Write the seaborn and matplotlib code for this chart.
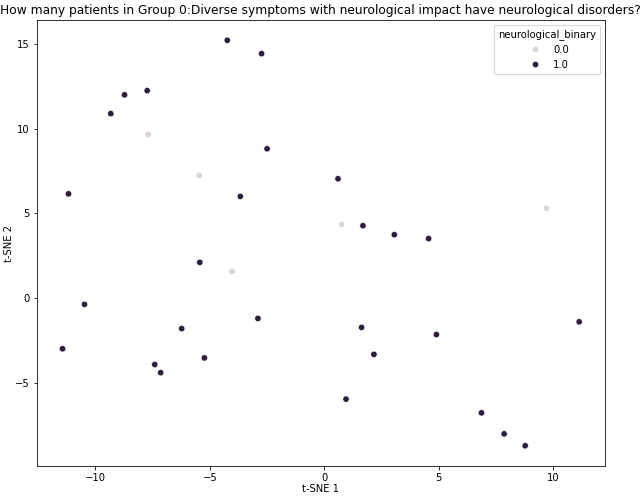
import pandas as pd
import matplotlib
matplotlib.use("Agg")
import matplotlib.pyplot as plt
import seaborn as sns

# t-SNE coordinates
tsne_1 = [-4.24, -2.74, -8.73, -7.74, -9.33, -7.70, -2.50, -5.47, -11.18, -3.67,
          0.60, 0.76, 1.69, 3.06, 4.56, 9.71,
          -5.44, -4.03, -10.48, -2.90, -6.23, -11.44, -5.24, -7.41, -7.15,
          1.63, 4.90, 11.14, 2.17, 0.95, 6.87, 7.86, 8.78]
tsne_2 = [15.21, 14.42, 11.99, 12.24, 10.88, 9.66, 8.81, 7.24, 6.15, 6.00,
          7.04, 4.35, 4.27, 3.74, 3.51, 5.30,
          2.11, 1.57, -0.37, -1.20, -1.80, -2.99, -3.53, -3.92, -4.40,
          -1.73, -2.15, -1.40, -3.32, -5.96, -6.77, -8.01, -8.71]
neurological_binary = [1.0, 1.0, 1.0, 1.0, 1.0, 0.0, 1.0, 0.0, 1.0, 1.0,
                       1.0, 0.0, 1.0, 1.0, 1.0, 0.0,
                       1.0, 0.0, 1.0, 1.0, 1.0, 1.0, 1.0, 1.0, 1.0,
                       1.0, 1.0, 1.0, 1.0, 1.0, 1.0, 1.0, 1.0]

df = pd.DataFrame({"t-SNE 1": tsne_1, "t-SNE 2": tsne_2,
                   "neurological_binary": neurological_binary})

# dark end of seaborn's sequential cubehelix, greyish light end as in the reference
cmap = sns.cubehelix_palette(as_cmap=True)
palette = {0.0: "#ddd4d8", 1.0: cmap(1.0)}

fig = plt.figure(figsize=(640 / 72, 496 / 72), dpi=72)
ax = fig.add_axes([36.7 / 640, 30 / 496, (605 - 36.7) / 640, 446 / 496])
sns.scatterplot(data=df, x="t-SNE 1", y="t-SNE 2", hue="neurological_binary",
                hue_order=[0.0, 1.0], palette=palette, s=40, ax=ax)
ax.set_title("How many patients in Group 0:Diverse symptoms with neurological impact have neurological disorders?",
             fontsize=12.25)
ax.set_xlabel("t-SNE 1", labelpad=1)
ax.set_ylabel("t-SNE 2", labelpad=1)
fig.savefig("out.png", dpi=72)
